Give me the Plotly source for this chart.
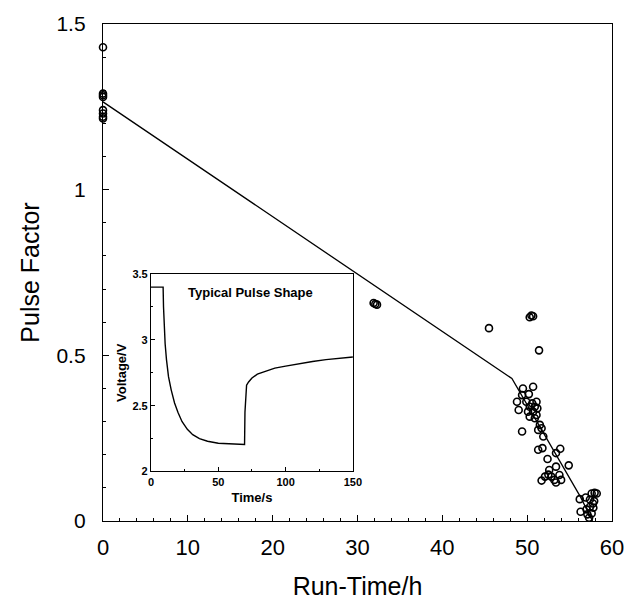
import plotly.graph_objects as go

# Main data: pulse factor vs run time
run_time = [0, 0, 0, 0, 0, 0, 0, 0,
            31.9, 32.1, 32.3,
            45.5, 50.3, 50.5, 50.7, 51.4,
            49.5, 50.7, 49.4, 50.2, 48.8, 49.0, 49.9, 51.1, 50.3, 50.7,
            50.1, 51.1, 50.3, 50.9, 51.5, 51.3, 49.4, 51.9, 51.7, 51.3,
            51.8, 53.4, 53.9, 52.4, 54.9, 53.4, 52.6, 52.1, 51.7, 52.85,
            53.2, 53.8, 54.0, 53.4, 52.5, 50.6, 50.9, 51.2,
            56.2, 56.9, 57.6, 57.95, 56.3, 57.0, 57.4, 57.75, 57.6, 56.6,
            57.1, 57.8, 57.4, 58.2, 57.9, 57.3]
pulse_factor = [1.43, 1.29, 1.28, 1.285, 1.24, 1.23, 1.22, 1.215,
                0.658, 0.655, 0.653,
                0.582, 0.615, 0.62, 0.618, 0.515,
                0.40, 0.405, 0.38, 0.383, 0.36, 0.335, 0.36, 0.36, 0.345, 0.33,
                0.33, 0.32, 0.315, 0.31, 0.29, 0.275, 0.27, 0.255, 0.28, 0.215,
                0.22, 0.205, 0.218, 0.187, 0.168, 0.164, 0.154, 0.134, 0.122, 0.134,
                0.124, 0.139, 0.124, 0.116, 0.14, 0.355, 0.345, 0.34,
                0.066, 0.071, 0.083, 0.085, 0.028, 0.035, 0.043, 0.053, 0.023, -0.002,
                0.02, 0.04, 0.065, 0.083, 0.06, 0.01]

fit_x = [0, 48.2, 56.3, 57.7]
fit_y = [1.265, 0.43, 0.072, 0.0]

# Inset: typical pulse shape
pulse_t = [0, 9.0, 9.3, 9.8, 10.5, 11.5, 13, 15, 17.5, 20, 23, 27, 31, 36, 42, 50, 60,
           69.5, 69.8, 70.3, 71, 72.5, 75, 79, 85, 92, 100, 110, 120, 130, 140, 150]
pulse_v = [3.40, 3.40, 3.25, 3.10, 2.97, 2.85, 2.72, 2.62, 2.52, 2.45, 2.38, 2.32, 2.28,
           2.25, 2.23, 2.215, 2.21, 2.205, 2.45, 2.56, 2.655, 2.68, 2.71, 2.74, 2.76,
           2.785, 2.80, 2.82, 2.835, 2.85, 2.86, 2.87]

FONT = "Liberation Sans, Arial, Helvetica, sans-serif"

fig = go.Figure()
fig.add_trace(go.Scatter(x=fit_x, y=fit_y, mode="lines",
                         line=dict(color="black", width=1.3), showlegend=False,
                         xaxis="x", yaxis="y"))
fig.add_trace(go.Scatter(x=run_time, y=pulse_factor, mode="markers",
                         marker=dict(symbol="circle-open", size=7,
                                     line=dict(color="black", width=1.6), color="black"),
                         cliponaxis=False, showlegend=False, xaxis="x", yaxis="y"))
fig.add_trace(go.Scatter(x=pulse_t, y=pulse_v, mode="lines",
                         line=dict(color="black", width=1.4), showlegend=False,
                         xaxis="x2", yaxis="y2"))

fig.update_layout(
    width=627, height=600,
    margin=dict(l=103, r=15, t=24, b=79, autoexpand=False),
    paper_bgcolor="white", plot_bgcolor="white",
    font=dict(family=FONT, color="black"),
    xaxis=dict(range=[0, 60], tickvals=[0, 10, 20, 30, 40, 50, 60], automargin=False,
               ticks="inside", ticklen=6, tickwidth=1.2, tickcolor="black",
               minor=dict(dtick=2, ticks="inside", ticklen=3, tickcolor="black"),
               showline=True, linecolor="black", linewidth=1.3, mirror=True,
               showgrid=False, zeroline=False, ticklabelstandoff=6,
               tickfont=dict(size=22, family=FONT),
               title=dict(text="Run-Time/h", font=dict(size=25), standoff=21)),
    yaxis=dict(range=[0, 1.5], tickvals=[0, 0.5, 1, 1.5], ticktext=["0", "0.5", "1", "1.5"],
               automargin=False,
               ticks="inside", ticklen=6, tickwidth=1.2, tickcolor="black",
               minor=dict(dtick=0.1, ticks="inside", ticklen=3, tickcolor="black"),
               showline=True, linecolor="black", linewidth=1.3, mirror=True,
               showgrid=False, zeroline=False, ticklabelstandoff=12,
               tickfont=dict(size=21, family=FONT),
               title=dict(text="Pulse Factor", font=dict(size=25), standoff=9)),
    xaxis2=dict(domain=[0.0943, 0.491], anchor="y2", range=[0, 150], automargin=False,
                tickvals=[0, 50, 100, 150],
                ticks="inside", ticklen=4, tickcolor="black",
                minor=dict(dtick=25, ticks="inside", ticklen=2, tickcolor="black"),
                showline=True, linecolor="black", linewidth=1.2, mirror=True,
                showgrid=False, zeroline=False,
                tickfont=dict(size=11, family="Liberation Sans, Arial", weight="bold"),
                title=dict(text="<b>Time/s</b>", font=dict(size=13), standoff=6)),
    yaxis2=dict(domain=[0.0996, 0.497], anchor="x2", range=[2, 3.5], automargin=False,
                tickvals=[2, 2.5, 3, 3.5], ticktext=["2", "2.5", "3", "3.5"],
                ticks="inside", ticklen=4, tickcolor="black",
                minor=dict(dtick=0.25, ticks="inside", ticklen=2, tickcolor="black"),
                showline=True, linecolor="black", linewidth=1.2, mirror=True,
                showgrid=False, zeroline=False,
                tickfont=dict(size=11, family="Liberation Sans, Arial", weight="bold"),
                title=dict(text="<b>Voltage/V</b>", font=dict(size=13), standoff=2)),
    annotations=[dict(text="<b>Typical Pulse Shape</b>", x=74, y=3.357,
                      xref="x2", yref="y2", showarrow=False,
                      font=dict(size=13, family=FONT, color="black"),
                      xanchor="center", yanchor="middle")],
)

fig.write_html(
    "out.html",
    config={"displayModeBar": False},
    post_script=("document.body.style.margin='0';"
                 "document.body.style.overflow='hidden';"
                 "document.documentElement.style.overflow='hidden';"),
)
